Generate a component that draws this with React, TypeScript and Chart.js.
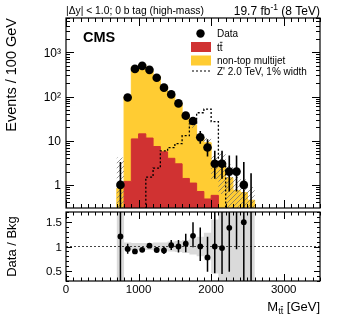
import React, { useEffect, useRef } from "react";
import { Chart, registerables } from "chart.js";
Chart.register(...registerables);

// ---------------- data ----------------
const binEdges = [700, 800, 900, 1000, 1100, 1200, 1300, 1400, 1500, 1600, 1700, 1800, 1900, 2000, 2100, 2200, 2300, 2400, 2500, 2600];
const binCenters = [750, 850, 950, 1050, 1150, 1250, 1350, 1450, 1550, 1650, 1750, 1850, 1950, 2050, 2150, 2250, 2350, 2450, 2550];
const dataCounts = [1, 95, 423, 494, 402, 266, 159, 112, 70, 37, 28, 12, 7, 3, 3, 2, 2, 1, 0];
const dataErrDown = [0.83, 9.7, 20.6, 22.2, 20, 16.3, 12.6, 10.6, 8.4, 6.1, 5.3, 3.5, 2.6, 1.63, 1.63, 1.29, 1.29, 0.83, 0];
const dataErrUp = [2.3, 10.8, 21.6, 23.2, 21, 17.3, 13.6, 11.6, 9.4, 7.1, 6.3, 4.6, 3.8, 2.92, 2.92, 2.64, 2.64, 2.3, 1.84];
const ttbar = [0, 1.2, 11, 14.3, 11.5, 7.4, 5.6, 4.0, 3.0, 1.4, 1.1, 0.71, 0.48, 0.58, 0, 0, 0, 0, 0];
const totalBkg = [0.83, 100, 470, 530, 395, 286, 173, 109, 70, 35, 23, 12, 9, 3, 3.1, 1.45, 0.75, 0.67, 0.45];
const bkgRelUnc = [4, 0.08, 0.07, 0.07, 0.07, 0.08, 0.08, 0.1, 0.11, 0.13, 0.16, 0.2, 0.28, 0.55, 0.8, 1, 1, 1, 1];
const zprimeEdges = [1100, 1200, 1300, 1400, 1500, 1600, 1700, 1800, 1900, 2000, 2100, 2200];
const zprime = [1.5, 2.4, 5.9, 7.0, 8.6, 13, 24, 43, 52, 27, 3];
const xMajorTicks = [0, 1000, 2000, 3000];
const xTickLabels = ["0", "1000", "2000", "3000"];
const logTickValues = [1, 10, 100, 1000];
const logTickLabels = ["1", "10", "10\u00b2", "10\u00b3"];
const ratioTickValues = [0.5, 1, 1.5];
const ratioTickLabels = ["0.5", "1", "1.5"];

const X_MIN = 0, X_MAX = 3500;
const Y_MIN = 0.32, Y_MAX = 6000;
const R_MIN = 0.3, R_MAX = 1.7;
const FLOOR = 1e-4;
const FONT = '"Liberation Sans", Arial, Helvetica, sans-serif';
const RED = "rgb(208,50,50)";
const YELLOW = "rgb(255,204,51)";

function stepLine(edges: number[], vals: number[], base: number) {
  const pts: { x: number; y: number }[] = [{ x: edges[0] - 100, y: base }];
  vals.forEach((v, i) => pts.push({ x: edges[i], y: v }));
  pts.push({ x: edges[edges.length - 1], y: base });
  pts.push({ x: X_MAX + 200, y: base });
  return pts;
}
const pos = (v: number) => (v > 0 ? v : FLOOR);

function makeHatch(ctx: CanvasRenderingContext2D) {
  const c = document.createElement("canvas");
  c.width = 5;
  c.height = 5;
  const g = c.getContext("2d")!;
  g.strokeStyle = "rgba(110,110,110,0.9)";
  g.lineWidth = 0.8;
  g.beginPath();
  g.moveTo(0, 5); g.lineTo(5, 0);
  g.moveTo(-1, 1); g.lineTo(1, -1);
  g.moveTo(4, 6); g.lineTo(6, 4);
  g.stroke();
  return ctx.createPattern(c, "repeat")!;
}

function drawFrameAndTicks(chart: any, xMajLen: number, xMinLen: number, yTicks: { v: number; major: boolean }[], yMajLen: number, yMinLen: number) {
  const { ctx, chartArea: a, scales } = chart;
  const xs = scales.x, ys = scales.y;
  ctx.save();
  ctx.strokeStyle = "#000";
  ctx.lineWidth = 1;
  ctx.beginPath();
  for (let v = X_MIN; v <= X_MAX; v += 100) {
    const px = Math.round(xs.getPixelForValue(v)) + 0.5;
    const L = xMajorTicks.includes(v) ? xMajLen : xMinLen;
    ctx.moveTo(px, a.bottom); ctx.lineTo(px, a.bottom - L);
    ctx.moveTo(px, a.top); ctx.lineTo(px, a.top + L);
  }
  yTicks.forEach((t) => {
    const py = Math.round(ys.getPixelForValue(t.v)) + 0.5;
    const L = t.major ? yMajLen : yMinLen;
    ctx.moveTo(a.left, py); ctx.lineTo(a.left + L, py);
    ctx.moveTo(a.right, py); ctx.lineTo(a.right - L, py);
  });
  ctx.stroke();
  ctx.lineWidth = 1.2;
  ctx.strokeRect(a.left, a.top, a.right - a.left, a.bottom - a.top);
  ctx.restore();
}

function drawErrorBars(chart: any, lo: number[], hi: number[], width: number) {
  const { ctx, chartArea: a, scales } = chart;
  ctx.save();
  ctx.beginPath();
  ctx.rect(a.left, a.top, a.right - a.left, a.bottom - a.top);
  ctx.clip();
  ctx.strokeStyle = "#000";
  ctx.lineWidth = width;
  ctx.beginPath();
  binCenters.forEach((c, i) => {
    const px = scales.x.getPixelForValue(c);
    let y1 = lo[i] > 0 ? scales.y.getPixelForValue(lo[i]) : a.bottom + 5;
    let y2 = scales.y.getPixelForValue(hi[i]);
    y1 = Math.min(y1, a.bottom + 5);
    y2 = Math.max(y2, a.top - 5);
    ctx.moveTo(px, y1);
    ctx.lineTo(px, y2);
  });
  ctx.stroke();
  ctx.restore();
}

function drawTT(ctx: CanvasRenderingContext2D, x: number, base: number, size: number) {
  ctx.font = `${size}px ${FONT}`;
  ctx.textAlign = "left";
  ctx.textBaseline = "alphabetic";
  ctx.fillText("tt", x, base);
  const w = ctx.measureText("tt").width;
  ctx.save();
  ctx.lineWidth = Math.max(0.8, size / 12);
  ctx.beginPath();
  const yb = base - size * 0.82;
  ctx.moveTo(x + w * 0.52, yb);
  ctx.lineTo(x + w * 0.98, yb);
  ctx.stroke();
  ctx.restore();
  return w;
}

const topPlugin = {
  id: "topDecor",
  afterDatasetsDraw(chart: any) {
    const lo = dataCounts.map((n, i) => n - dataErrDown[i]);
    const hi = dataCounts.map((n, i) => n + dataErrUp[i]);
    drawErrorBars(chart, lo, hi, 1.6);
  },
  afterDraw(chart: any) {
    const { ctx, chartArea: a, scales } = chart;
    const yt: { v: number; major: boolean }[] = [];
    for (let d = -1; d <= 3; d++) {
      for (let k = 1; k <= 9; k++) {
        const v = k * Math.pow(10, d);
        if (v >= Y_MIN && v <= Y_MAX) yt.push({ v, major: k === 1 });
      }
    }
    drawFrameAndTicks(chart, 8, 4, yt, 8, 4);
    ctx.save();
    ctx.fillStyle = "#000";
    ctx.strokeStyle = "#000";
    // y tick labels
    ctx.font = `12px ${FONT}`;
    ctx.textAlign = "right";
    ctx.textBaseline = "middle";
    logTickValues.forEach((v, i) => {
      ctx.fillText(logTickLabels[i], a.left - 5, scales.y.getPixelForValue(v) + 1);
    });
    // y title
    ctx.save();
    ctx.translate(16, a.top);
    ctx.rotate(-Math.PI / 2);
    ctx.font = `14.5px ${FONT}`;
    ctx.textAlign = "right";
    ctx.textBaseline = "alphabetic";
    ctx.fillText("Events / 100 GeV", 0, 0);
    ctx.restore();
    // header
    ctx.font = `10.3px ${FONT}`;
    ctx.textAlign = "left";
    ctx.textBaseline = "alphabetic";
    ctx.fillText("|\u0394y| < 1.0; 0 b tag (high-mass)", a.left, 13.5);
    // lumi
    ctx.font = `12px ${FONT}`;
    const p3 = " (8 TeV)";
    const p1 = "19.7 fb";
    const w3 = ctx.measureText(p3).width;
    const w1 = ctx.measureText(p1).width;
    ctx.font = `8.5px ${FONT}`;
    const w2 = ctx.measureText("-1").width;
    let x0 = a.right - (w1 + w2 + w3);
    ctx.font = `12px ${FONT}`;
    ctx.fillText(p1, x0, 14.5);
    ctx.font = `8.5px ${FONT}`;
    ctx.fillText("-1", x0 + w1, 9.5);
    ctx.font = `12px ${FONT}`;
    ctx.fillText(p3, x0 + w1 + w2, 14.5);
    // CMS
    ctx.font = `bold 14.5px ${FONT}`;
    ctx.fillText("CMS", 83, 42);
    // legend
    const lx = 217;
    ctx.font = `10px ${FONT}`;
    ctx.beginPath();
    ctx.arc(200.5, 33.5, 4.2, 0, Math.PI * 2);
    ctx.fill();
    ctx.fillText("Data", lx, 37);
    ctx.fillStyle = RED;
    ctx.fillRect(191, 42, 20, 10);
    ctx.fillStyle = YELLOW;
    ctx.fillRect(191, 55.5, 20, 10);
    ctx.fillStyle = "#000";
    drawTT(ctx, lx, 50.5, 10);
    ctx.font = `10px ${FONT}`;
    ctx.fillText("non-top multijet", lx, 64);
    ctx.fillText("Z' 2.0 TeV, 1% width", lx, 74.5);
    ctx.setLineDash([2, 2]);
    ctx.lineWidth = 1.2;
    ctx.beginPath();
    ctx.moveTo(192, 71);
    ctx.lineTo(211, 71);
    ctx.stroke();
    ctx.restore();
  },
};

const ratioPlugin = {
  id: "ratioDecor",
  afterDatasetsDraw(chart: any) {
    const lo = dataCounts.map((n, i) => (n - dataErrDown[i]) / totalBkg[i]);
    const hi = dataCounts.map((n, i) => (n + dataErrUp[i]) / totalBkg[i]);
    drawErrorBars(chart, lo, hi, 1.5);
  },
  afterDraw(chart: any) {
    const { ctx, chartArea: a, scales } = chart;
    const yt: { v: number; major: boolean }[] = [];
    for (let k = 3; k <= 17; k++) {
      const v = k / 10;
      yt.push({ v, major: k % 5 === 0 });
    }
    drawFrameAndTicks(chart, 7, 3.5, yt, 6, 3);
    ctx.save();
    ctx.fillStyle = "#000";
    ctx.font = `11.5px ${FONT}`;
    ctx.textAlign = "right";
    ctx.textBaseline = "middle";
    ratioTickValues.forEach((v, i) => {
      ctx.fillText(ratioTickLabels[i], a.left - 4, scales.y.getPixelForValue(v) + 1);
    });
    ctx.textAlign = "center";
    ctx.textBaseline = "alphabetic";
    xMajorTicks.forEach((v, i) => {
      ctx.fillText(xTickLabels[i], scales.x.getPixelForValue(v), a.bottom + 12);
    });
    // y title
    ctx.save();
    ctx.translate(16, (a.top + a.bottom) / 2);
    ctx.rotate(-Math.PI / 2);
    ctx.font = `13px ${FONT}`;
    ctx.textAlign = "center";
    ctx.fillText("Data / Bkg", 0, 0);
    ctx.restore();
    // x title
    ctx.font = `13px ${FONT}`;
    ctx.textAlign = "left";
    const wM = ctx.measureText("M").width;
    const wG = ctx.measureText(" [GeV]").width;
    ctx.font = `9px ${FONT}`;
    const wS = ctx.measureText("tt").width;
    const x0 = a.right - (wM + wS + wG);
    const base = a.bottom + 30;
    ctx.font = `13px ${FONT}`;
    ctx.fillText("M", x0, base);
    drawTT(ctx, x0 + wM, base + 3, 9);
    ctx.font = `13px ${FONT}`;
    ctx.fillText(" [GeV]", x0 + wM + wS, base);
    ctx.restore();
  },
};

export default function App() {
  const topRef = useRef<HTMLCanvasElement>(null);
  const botRef = useRef<HTMLCanvasElement>(null);

  useEffect(() => {
    const cTop = topRef.current!;
    const cBot = botRef.current!;
    const hatch = makeHatch(cTop.getContext("2d")!);

    const dataPts = binCenters.map((c, i) => ({ x: c, y: dataCounts[i] > 0 ? dataCounts[i] : null }));
    const redPts = stepLine(binEdges, ttbar.map(pos), FLOOR);
    const totPts = stepLine(binEdges, totalBkg.map(pos), FLOOR);
    const bandLo = stepLine(binEdges, totalBkg.map((t, i) => pos(t * (1 - bkgRelUnc[i]))), FLOOR);
    const bandHi = stepLine(binEdges, totalBkg.map((t, i) => pos(t * (1 + bkgRelUnc[i]))), FLOOR);
    const zpPts = stepLine(zprimeEdges, zprime.map(pos), FLOOR);

    const common = {
      animation: false as const,
      responsive: false,
      events: [] as any[],
      plugins: { legend: { display: false }, tooltip: { enabled: false } },
      elements: { point: { radius: 0 }, line: { tension: 0 } },
    };

    const top = new Chart(cTop, {
      type: "line",
      data: {
        datasets: [
          { data: dataPts as any, showLine: false, pointRadius: 4.3, pointBackgroundColor: "#000", pointBorderWidth: 0, order: 0 },
          { data: zpPts, stepped: true, borderColor: "#000", borderWidth: 1.3, borderDash: [2, 2], fill: false, order: 1 },
          { data: bandHi, stepped: true, borderColor: "transparent", borderWidth: 0, fill: 3, backgroundColor: hatch, order: 2 },
          { data: bandLo, stepped: true, borderColor: "transparent", borderWidth: 0, fill: false, order: 3 },
          { data: redPts, stepped: true, borderColor: RED, borderWidth: 1, backgroundColor: RED, fill: "start", order: 4 },
          { data: totPts, stepped: true, borderColor: YELLOW, borderWidth: 1, backgroundColor: YELLOW, fill: "start", order: 5 },
        ],
      },
      options: {
        ...common,
        layout: { padding: { left: 66, right: 21, top: 18, bottom: 112 } },
        scales: {
          x: { type: "linear", min: X_MIN, max: X_MAX, display: false },
          y: { type: "logarithmic", min: Y_MIN, max: Y_MAX, display: false },
        },
      } as any,
      plugins: [topPlugin],
    });

    const ratioPts = binCenters.map((c, i) => ({ x: c, y: dataCounts[i] > 0 ? dataCounts[i] / totalBkg[i] : null }));
    const rLo = stepLine(binEdges, bkgRelUnc.map((u) => 1 - u), 1);
    const rHi = stepLine(binEdges, bkgRelUnc.map((u) => 1 + u), 1);

    const bot = new Chart(cBot, {
      type: "line",
      data: {
        datasets: [
          { data: ratioPts as any, showLine: false, pointRadius: 2.9, pointBackgroundColor: "#000", pointBorderWidth: 0, order: 0 },
          { data: [{ x: X_MIN, y: 1 }, { x: X_MAX, y: 1 }], borderColor: "#444", borderWidth: 1, borderDash: [2, 2], fill: false, order: 1 },
          { data: rHi, stepped: true, borderColor: "transparent", borderWidth: 0, fill: 3, backgroundColor: "rgb(218,218,218)", order: 2 },
          { data: rLo, stepped: true, borderColor: "transparent", borderWidth: 0, fill: false, order: 3 },
        ],
      },
      options: {
        ...common,
        layout: { padding: { left: 66, right: 21, top: 212, bottom: 39 } },
        scales: {
          x: { type: "linear", min: X_MIN, max: X_MAX, display: false },
          y: { type: "linear", min: R_MIN, max: R_MAX, display: false },
        },
      } as any,
      plugins: [ratioPlugin],
    });

    return () => {
      top.destroy();
      bot.destroy();
    };
  }, []);

  return (
    <div style={{ position: "fixed", left: 0, top: 0, width: 341, height: 320, background: "#fff" }}>
      <canvas ref={topRef} width={341} height={320} style={{ position: "absolute", left: 0, top: 0 }} />
      <canvas ref={botRef} width={341} height={320} style={{ position: "absolute", left: 0, top: 0 }} />
    </div>
  );
}
